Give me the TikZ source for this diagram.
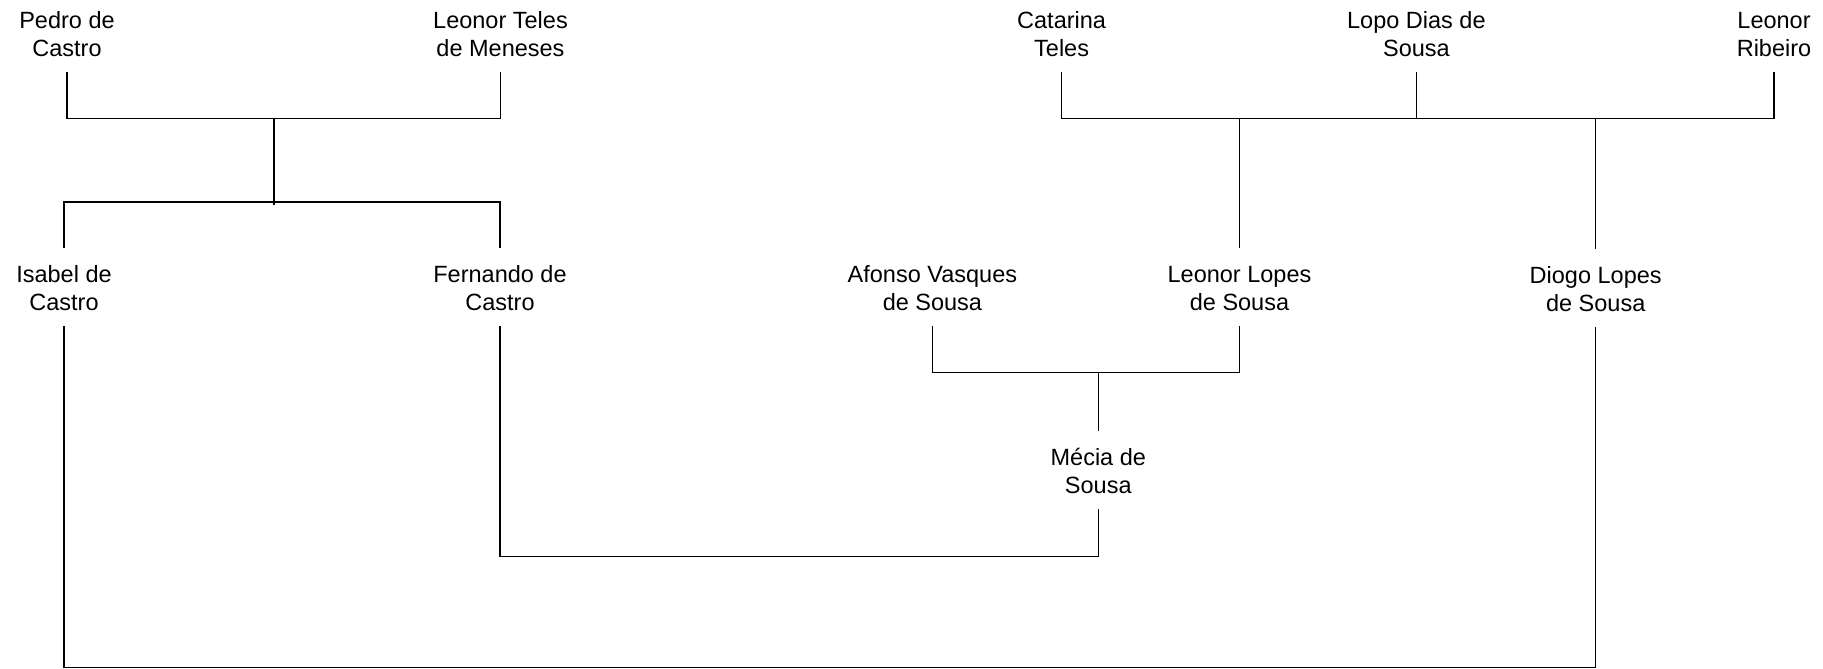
\documentclass[tikz,border=0pt]{standalone}
\usepackage{fontspec}
\setmainfont{Liberation Sans}
\newcommand\tstr{\rule{0pt}{34pt}}
\newcommand\bstr{\rule[-15pt]{0pt}{15pt}}
\begin{document}
\begin{tikzpicture}[x=1pt,y=-1pt,
  person/.style={align=center, anchor=north, inner sep=0pt, text=black,
                 font=\fontsize{23.5}{28.5}\selectfont},
  link/.style={line width=1.3pt, draw=black}]
\path[use as bounding box, fill=white] (0,0) rectangle (1823,669);
% generation 1
\node[person] (pedro)    at (67,-5.7)     {\tstr Pedro de\\Castro\bstr};
\node[person] (lteles)   at (500.5,-5.7)  {\tstr Leonor Teles\\de Meneses\bstr};
\node[person] (catarina) at (1061.6,-5.7) {\tstr Catarina\\Teles\bstr};
\node[person] (lopo)     at (1416.4,-5.7) {\tstr Lopo Dias de\\Sousa\bstr};
\node[person] (ribeiro)  at (1774,-5.7)   {\tstr Leonor\\Ribeiro\bstr};
% generation 2
\node[person] (isabel)   at (64,248)      {\tstr Isabel de\\Castro\bstr};
\node[person] (fernando) at (500,248)     {\tstr Fernando de\\Castro\bstr};
\node[person] (afonso)   at (932.4,248)   {\tstr Afonso Vasques\\de Sousa\bstr};
\node[person] (llopes)   at (1239.5,248)  {\tstr Leonor Lopes\\de Sousa\bstr};
\node[person] (diogo)    at (1595.7,249)  {\tstr Diogo Lopes\\de Sousa\bstr};
% generation 3
\node[person] (mecia)    at (1098.3,431)  {\tstr Mécia de\\Sousa\bstr};
% junction points
\coordinate (mL)  at (274,118.3);
\coordinate (mLb) at (274,204.5);
\coordinate (kL)  at (274,202);
\coordinate (mR)  at (1416.4,118.3);
\coordinate (mA)  at (1098.3,372.7);
\coordinate (mF)  at (800,556.7);
\coordinate (mI)  at (800,667.5);
% connectors
\draw[link] (pedro.south) |- (mL) -| (lteles.south);
\draw[link] (mL) -- (mLb);
\draw[link] (isabel.north) |- (kL) -| (fernando.north);
\draw[link] (catarina.south) |- (mR) -| (ribeiro.south);
\draw[link] (lopo.south) -- (mR);
\draw[link] (llopes.north) -- (llopes.north |- mR);
\draw[link] (diogo.north) -- (diogo.north |- mR);
\draw[link] (afonso.south) |- (mA) -| (llopes.south);
\draw[link] (mA) -- (mecia.north);
\draw[link] (fernando.south) |- (mF) -| (mecia.south);
\draw[link] (isabel.south) |- (mI) -| (diogo.south);
\end{tikzpicture}
\end{document}
